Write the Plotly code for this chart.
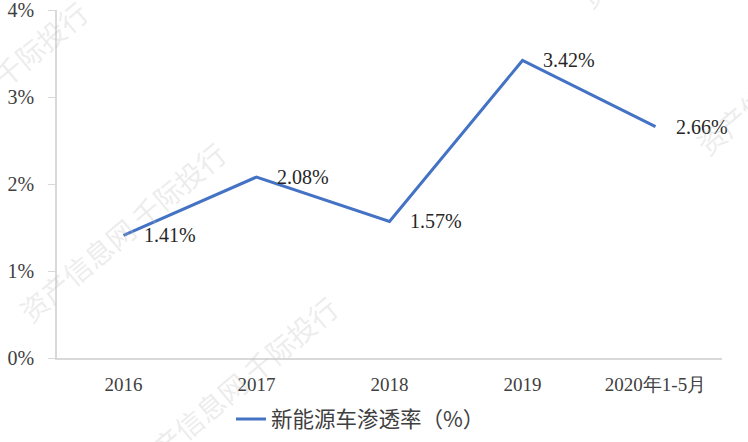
import plotly.graph_objects as go

categories = ["2016", "2017", "2018", "2019", "2020年1-5月"]
penetration = [1.41, 2.08, 1.57, 3.42, 2.66]
labels = ["1.41%", "2.08%", "1.57%", "3.42%", "2.66%"]
y_ticks = [0, 1, 2, 3, 4]
y_tick_text = ["0%", "1%", "2%", "3%", "4%"]
series_name = "新能源车渗透率（%）"
watermark_text = "资产信息网 千际投行"

serif = "Liberation Serif"
fig = go.Figure()
fig.add_trace(go.Scatter(
    x=categories, y=penetration, mode="lines", name=series_name,
    line=dict(color="#4472C4", width=3), cliponaxis=False,
))

for i, (v, t) in enumerate(zip(penetration, labels)):
    fig.add_annotation(x=i, y=v, text=t, showarrow=False, xanchor="left",
                       yanchor="middle", xshift=18,
                       font=dict(family=serif, size=20, color="#262626"))

# faint watermarks (plot area: x 57..722 px, y 10..358 px)
def px(xp, yp):
    return (xp - 57) / 665, (358 - yp) / 348

wm = dict(color="rgba(190,190,190,0.28)", size=28, family="Noto Sans CJK SC")
for (xp, yp) in [(122, 232), (-16, 91), (234, 386), (682, -82), (799, 65)]:
    x, y = px(xp, yp)
    fig.add_annotation(text=watermark_text, x=x, y=y, xref="paper", yref="paper",
                       xanchor="center", yanchor="middle",
                       showarrow=False, textangle=-40, font=wm)

fig.update_layout(
    width=748, height=442,
    margin=dict(l=57, r=26, t=10, b=84, autoexpand=False),
    paper_bgcolor="white", plot_bgcolor="white",
    showlegend=True,
    legend=dict(orientation="h", x=(231 - 57) / 665, xanchor="left", yref="container",
                y=0.052, yanchor="middle",
                font=dict(family="Noto Sans CJK SC", size=21.5, color="#404040")),
    xaxis=dict(range=[-0.5, 4.5], showgrid=False, showline=True,
               linecolor="#D9D9D9", linewidth=1.5, ticks="", ticklabelstandoff=8,
               tickfont=dict(family=serif, size=19, color="#404040")),
    yaxis=dict(range=[0, 4], tickvals=y_ticks, ticktext=y_tick_text,
               showgrid=False, showline=True, linecolor="#D9D9D9", linewidth=1.5,
               ticks="outside", ticklen=7, tickcolor="#D9D9D9", zeroline=False,
               ticklabelstandoff=10, ticklabeloverflow="allow",
               tickfont=dict(family=serif, size=20, color="#404040")),
)
fig.write_html("out.html", config={"displayModeBar": False},
               post_script="document.body.style.margin='0';")
